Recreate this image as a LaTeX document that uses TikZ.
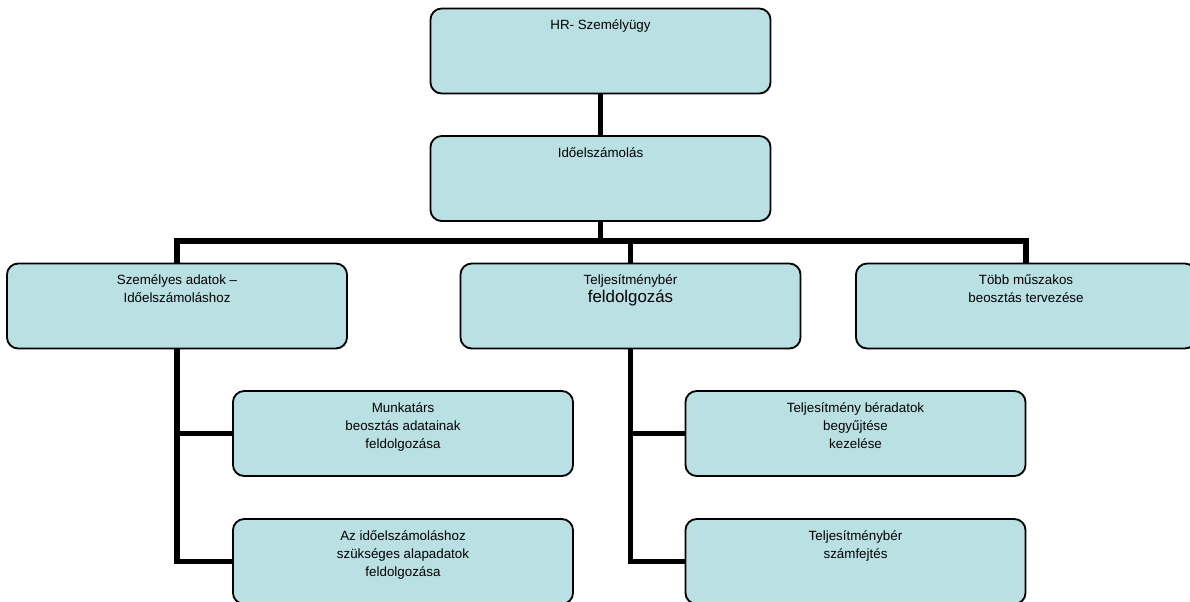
\documentclass[tikz,border=0pt]{standalone}
\usepackage{fontspec}
\setmainfont{Liberation Sans}
\usepackage{xcolor}
\definecolor{boxblue}{RGB}{185, 224, 227}
\usepackage{tikz}

\begin{document}
\begin{tikzpicture}[x=0.025cm, y=-0.025cm,
  box/.style={rectangle, draw=black, fill=boxblue, rounded corners=8pt,
              line width=1.3pt, minimum width=8.5cm, minimum height=2.125cm,
              inner sep=0pt},
  txt/.style={anchor=north, align=center, inner sep=0pt,
              font=\fontsize{9.5}{12.8}\selectfont},
  conn/.style={line width=4.2pt},
]
\useasboundingbox (0,0) rectangle (1190,601);

% Top level
\node[box] (hr) at (600.5, 51) {};
\node[txt] (hrt) at ([yshift=-0.3cm]hr.north) {HR- Személyügy};
\node[box] (ido) at (600.5,178.5) {};
\node[txt] (idot) at ([yshift=-0.3cm]ido.north) {Időelszámolás};

% Second level
\node[box] (szem) at (177,306) {};
\node[txt] (szemt) at ([yshift=-0.3cm]szem.north)
  {Személyes adatok –\\Időelszámoláshoz};
\node[box] (tel) at (630.5,306) {};
\node[txt] (telt) at ([yshift=-0.3cm]tel.north)
  {Teljesítménybér\\{\fontsize{12}{14}\selectfont feldolgozás}};
\node[box] (tob) at (1026,306) {};
\node[txt] (tobt) at ([yshift=-0.3cm]tob.north)
  {Több műszakos\\beosztás tervezése};

% Third level
\node[box] (mun) at (403,433.5) {};
\node[txt] (munt) at ([yshift=-0.3cm]mun.north)
  {Munkatárs\\beosztás adatainak\\feldolgozása};
\node[box] (alap) at (403,561.5) {};
\node[txt] (alapt) at ([yshift=-0.3cm]alap.north)
  {Az időelszámoláshoz\\szükséges alapadatok\\feldolgozása};
\node[box] (bead) at (855.5,433.5) {};
\node[txt] (beadt) at ([yshift=-0.3cm]bead.north)
  {Teljesítmény béradatok\\begyűjtése\\kezelése};
\node[box] (szf) at (855.5,561.5) {};
\node[txt] (szft) at ([yshift=-0.3cm]szf.north)
  {Teljesítménybér\\számfejtés};

% Connectors
\coordinate (bar) at (600.5,241);
\draw[conn] (hr) -- (ido);
\draw[conn] (ido) -- (bar);
\draw[conn] (szem) |- (bar);
\draw[conn] (tob) |- (bar);
\draw[conn] (tel) -- (tel |- bar);
\draw[conn] (szem) |- (mun);
\draw[conn] (szem) |- (alap);
\draw[conn] (tel) |- (bead);
\draw[conn] (tel) |- (szf);
\end{tikzpicture}
\end{document}
